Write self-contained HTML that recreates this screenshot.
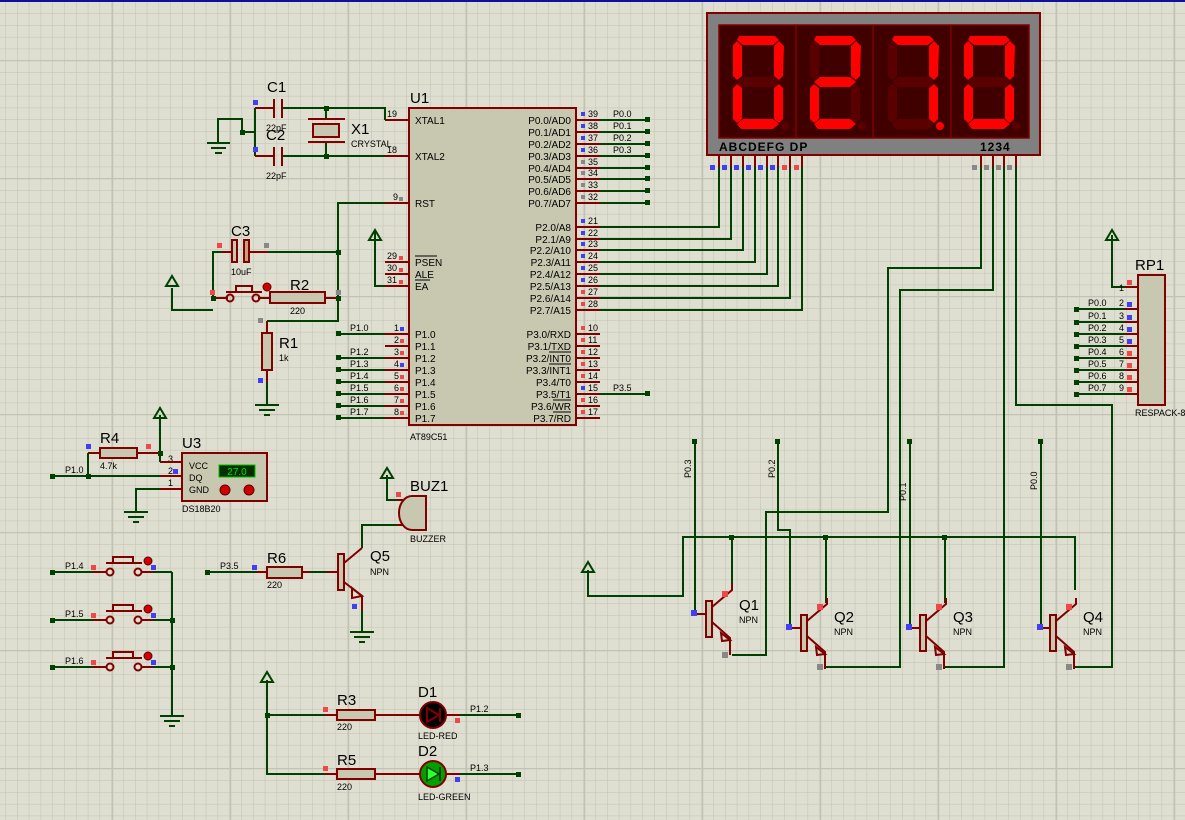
<!DOCTYPE html>
<html><head><meta charset="utf-8"><style>
html,body{margin:0;padding:0;background:#dfdfd1;}
svg{display:block;font-family:"Liberation Sans",sans-serif;}
.w{stroke:#004000;stroke-width:2;fill:none}
.r{stroke:#800000;stroke-width:2;fill:none}
.b{stroke:#800000;stroke-width:2;fill:#c8c8b0}
.t{font-size:10px;fill:#000}
.s{font-size:9px;fill:#000}
.L{font-size:15px;fill:#000}
.j{fill:#004000}
.pr{fill:#f04848}.pb{fill:#4040f0}.pg{fill:#888}
.on{fill:#ff0000}.off{fill:#5a0000}
</style></head><body>
<svg width="1185" height="820" viewBox="0 0 1185 820">
<defs>
<pattern id="g" x="5.2" y="1.5" width="11.8" height="11.8" patternUnits="userSpaceOnUse">
<path d="M0 0V11.8M0 0H11.8" stroke="#c2c2b4" stroke-width="1"/>
</pattern>
<pattern id="G" x="112" y="60" width="118" height="118" patternUnits="userSpaceOnUse">
<path d="M0 0V118M0 0H118" stroke="#c2c2b4" stroke-width="2.5"/>
</pattern>
</defs>
<rect width="1185" height="820" fill="#dfdfd1"/>
<rect width="1185" height="820" fill="url(#g)"/>
<rect width="1185" height="820" fill="url(#G)"/>
<line x1="0" y1="1" x2="1185" y2="1" stroke="#1010a0" stroke-width="2"/>

<!-- ===== U1 ===== -->
<rect x="409" y="108" width="167" height="317" class="b"/>
<text x="410" y="103" class="L">U1</text>
<text x="410" y="440" class="s">AT89C51</text>
<g class="r">
<path d="M385 120H409M385 156H409M385 203H409M385 262H409M385 274H409M385 286H409"/>
<path d="M385 334H409M385 346H409M385 358H409M385 370H409M385 382H409M385 394H409M385 406H409M385 418H409"/>
<path d="M576 120H600M576 132H600M576 144H600M576 156H600M576 168H600M576 179H600M576 191H600M576 203H600"/>
<path d="M576 227H600M576 239H600M576 250H600M576 262H600M576 274H600M576 286H600M576 298H600M576 310H600"/>
<path d="M576 334H600M576 346H600M576 358H600M576 370H600M576 382H600M576 394H600M576 406H600M576 418H600"/>
</g>
<g class="t">
<text x="415" y="124">XTAL1</text><text x="415" y="160">XTAL2</text><text x="415" y="207">RST</text>
<text x="415" y="266">PSEN</text><text x="415" y="278">ALE</text><text x="415" y="290">EA</text>
<text x="415" y="338">P1.0</text><text x="415" y="350">P1.1</text><text x="415" y="362">P1.2</text><text x="415" y="374">P1.3</text>
<text x="415" y="386">P1.4</text><text x="415" y="398">P1.5</text><text x="415" y="410">P1.6</text><text x="415" y="422">P1.7</text>
</g>
<path d="M415 256H437M415 280H430" stroke="#000" stroke-width="1"/>
<g class="t" text-anchor="end">
<text x="571" y="124">P0.0/AD0</text><text x="571" y="136">P0.1/AD1</text><text x="571" y="148">P0.2/AD2</text><text x="571" y="160">P0.3/AD3</text>
<text x="571" y="172">P0.4/AD4</text><text x="571" y="183">P0.5/AD5</text><text x="571" y="195">P0.6/AD6</text><text x="571" y="207">P0.7/AD7</text>
<text x="571" y="231">P2.0/A8</text><text x="571" y="243">P2.1/A9</text><text x="571" y="254">P2.2/A10</text><text x="571" y="266">P2.3/A11</text>
<text x="571" y="278">P2.4/A12</text><text x="571" y="290">P2.5/A13</text><text x="571" y="302">P2.6/A14</text><text x="571" y="314">P2.7/A15</text>
<text x="571" y="338">P3.0/RXD</text><text x="571" y="350">P3.1/TXD</text><text x="571" y="362">P3.2/INT0</text><text x="571" y="374">P3.3/INT1</text>
<text x="571" y="386">P3.4/T0</text><text x="571" y="398">P3.5/T1</text><text x="571" y="410">P3.6/WR</text><text x="571" y="422">P3.7/RD</text>
</g>
<path d="M549 352H571M549 364H571M553 400H571M553 412H571M553 412H571" stroke="#000" stroke-width="1"/>
<g class="s">
<text x="387" y="117">19</text><text x="387" y="153">18</text><text x="393" y="200">9</text>
<text x="387" y="259">29</text><text x="387" y="271">30</text><text x="387" y="283">31</text>
<text x="394" y="331">1</text><text x="394" y="343">2</text><text x="394" y="355">3</text><text x="394" y="367">4</text>
<text x="394" y="379">5</text><text x="394" y="391">6</text><text x="394" y="403">7</text><text x="394" y="415">8</text>
<text x="588" y="117">39</text><text x="588" y="129">38</text><text x="588" y="141">37</text><text x="588" y="153">36</text>
<text x="588" y="165">35</text><text x="588" y="176">34</text><text x="588" y="188">33</text><text x="588" y="200">32</text>
<text x="588" y="224">21</text><text x="588" y="236">22</text><text x="588" y="247">23</text><text x="588" y="259">24</text>
<text x="588" y="271">25</text><text x="588" y="283">26</text><text x="588" y="295">27</text><text x="588" y="307">28</text>
<text x="588" y="331">10</text><text x="588" y="343">11</text><text x="588" y="355">12</text><text x="588" y="367">13</text>
<text x="588" y="379">14</text><text x="588" y="391">15</text><text x="588" y="403">16</text><text x="588" y="415">17</text>
</g>
<g>
<rect x="581" y="112" width="4" height="4" class="pb"/><rect x="581" y="124" width="4" height="4" class="pb"/><rect x="581" y="136" width="4" height="4" class="pb"/><rect x="581" y="148" width="4" height="4" class="pb"/>
<rect x="581" y="160" width="4" height="4" class="pg"/><rect x="581" y="171" width="4" height="4" class="pg"/><rect x="581" y="183" width="4" height="4" class="pg"/><rect x="581" y="195" width="4" height="4" class="pg"/>
<rect x="581" y="219" width="4" height="4" class="pb"/><rect x="581" y="231" width="4" height="4" class="pb"/><rect x="581" y="242" width="4" height="4" class="pb"/><rect x="581" y="254" width="4" height="4" class="pb"/>
<rect x="581" y="266" width="4" height="4" class="pb"/><rect x="581" y="278" width="4" height="4" class="pb"/><rect x="581" y="290" width="4" height="4" class="pr"/><rect x="581" y="302" width="4" height="4" class="pr"/>
<rect x="581" y="326" width="4" height="4" class="pr"/><rect x="581" y="338" width="4" height="4" class="pr"/><rect x="581" y="350" width="4" height="4" class="pr"/><rect x="581" y="362" width="4" height="4" class="pr"/>
<rect x="581" y="374" width="4" height="4" class="pr"/><rect x="581" y="386" width="4" height="4" class="pb"/><rect x="581" y="398" width="4" height="4" class="pr"/><rect x="581" y="410" width="4" height="4" class="pr"/>
<rect x="399" y="197" width="4" height="4" class="pg"/>
<rect x="399" y="256" width="4" height="4" class="pr"/><rect x="399" y="268" width="4" height="4" class="pr"/><rect x="399" y="280" width="4" height="4" class="pr"/>
<rect x="400" y="327" width="4" height="4" class="pb"/><rect x="400" y="339" width="4" height="4" class="pr"/><rect x="400" y="351" width="4" height="4" class="pr"/><rect x="400" y="363" width="4" height="4" class="pb"/>
<rect x="400" y="375" width="4" height="4" class="pr"/><rect x="400" y="387" width="4" height="4" class="pr"/><rect x="400" y="399" width="4" height="4" class="pr"/><rect x="400" y="411" width="4" height="4" class="pr"/>
</g>
<!-- P0 wires -->
<path class="w" d="M600 120H648M600 132H648M600 144H648M600 156H648M600 168H648M600 179H648M600 191H648M600 203H648"/>
<g class="j"><rect x="645" y="117" width="5" height="5"/><rect x="645" y="129" width="5" height="5"/><rect x="645" y="141" width="5" height="5"/><rect x="645" y="153" width="5" height="5"/><rect x="645" y="165" width="5" height="5"/><rect x="645" y="176" width="5" height="5"/><rect x="645" y="188" width="5" height="5"/><rect x="645" y="200" width="5" height="5"/></g>
<g class="s"><text x="613" y="117">P0.0</text><text x="613" y="129">P0.1</text><text x="613" y="141">P0.2</text><text x="613" y="153">P0.3</text></g>
<!-- P2 wires to display -->
<path class="w" d="M600 227H719V165M600 239H731V165M600 250H743V165M600 262H755V165M600 274H767V165M600 286H778V165M600 298H790V165M600 310H802V165"/>
<!-- P3.5 -->
<path class="w" d="M600 394H648"/><rect x="645" y="391" width="5" height="5" class="j"/><text x="613" y="391" class="s">P3.5</text>
<!-- P1 wires -->
<path class="w" d="M338 334H385M338 358H385M338 370H385M338 382H385M338 394H385M338 406H385M338 418H385"/>
<g class="j"><rect x="336" y="331" width="5" height="5"/><rect x="336" y="355" width="5" height="5"/><rect x="336" y="367" width="5" height="5"/><rect x="336" y="379" width="5" height="5"/><rect x="336" y="391" width="5" height="5"/><rect x="336" y="403" width="5" height="5"/><rect x="336" y="415" width="5" height="5"/></g>
<g class="s"><text x="350" y="331">P1.0</text><text x="350" y="355">P1.2</text><text x="350" y="367">P1.3</text><text x="350" y="379">P1.4</text><text x="350" y="391">P1.5</text><text x="350" y="403">P1.6</text><text x="350" y="415">P1.7</text></g>

<!-- ===== crystal / caps ===== -->
<path class="w" d="M218 143V119H242V132H255M255 108V156M282 108H385V120M282 156H385M326 108V119M326 142V156"/>
<path class="r" d="M255 108H274M255 156H274M274 99V118M282 99V118M274 147V166M282 147V166M308 119H345M308 142H345"/>
<rect x="313" y="124" width="26" height="13" class="b"/>
<path class="w" d="M207 143H230M211 148H226M215 153H222"/>
<g class="j"><rect x="240" y="130" width="5" height="5"/><rect x="324" y="106" width="5" height="5"/><rect x="324" y="154" width="5" height="5"/></g>
<rect x="253" y="100" width="5" height="5" class="pb"/><rect x="253" y="147" width="5" height="5" class="pb"/>
<text x="267" y="92" class="L">C1</text><text x="266" y="131" class="s">22pF</text>
<text x="266" y="140" class="L">C2</text><text x="266" y="179" class="s">22pF</text>
<text x="351" y="134" class="L">X1</text><text x="351" y="147" class="s">CRYSTAL</text>

<!-- reset -->
<path class="w" d="M385 203H338V298V321H267M338 252H268M232 252H213V298M172 288V310H213M213 298H228M258 298H270M325 298H338"/>
<path class="r" d="M267 321V333M267 370V382M222 252H232M232 240V263M248 252H268M213 298H228M258 298H270M325 298H338"/>
<rect x="232" y="240" width="5" height="22" fill="#c8c8b0" stroke="#800000" stroke-width="2"/>
<rect x="244" y="240" width="5" height="22" fill="#c8a080" stroke="#800000" stroke-width="2"/>
<circle cx="230" cy="298" r="3.5" fill="none" stroke="#800000" stroke-width="2"/><circle cx="256" cy="298" r="3.5" fill="none" stroke="#800000" stroke-width="2"/>
<path class="r" d="M226 292H262M236 292V286H252V292"/>
<circle cx="267" cy="287" r="4" fill="#d00000" stroke="#600000"/>
<rect x="270" y="292" width="55" height="11" class="b"/>
<rect x="262" y="333" width="10" height="37" class="b"/>
<path class="w" d="M267 382V405M255 405H279M259 410H275M264 415H270"/>
<path class="w" d="M375 232V286H385"/><path d="M369 240L375 230L381 240Z" fill="none" stroke="#004000" stroke-width="2"/>
<path d="M166 286L172 276L178 286Z" fill="none" stroke="#004000" stroke-width="2"/>
<g class="j"><rect x="336" y="250" width="5" height="5"/><rect x="336" y="296" width="5" height="5"/><rect x="211" y="296" width="5" height="5"/></g>
<rect x="217" y="243" width="5" height="5" class="pr"/><rect x="264" y="243" width="5" height="5" class="pg"/><rect x="210" y="290" width="5" height="5" class="pr"/><rect x="336" y="290" width="5" height="5" class="pg"/>
<rect x="258" y="318" width="5" height="5" class="pg"/><rect x="258" y="378" width="5" height="5" class="pb"/>
<text x="231" y="236" class="L">C3</text><text x="231" y="275" class="s">10uF</text>
<text x="290" y="290" class="L">R2</text><text x="290" y="314" class="s">220</text>
<text x="279" y="348" class="L">R1</text><text x="279" y="361" class="s">1k</text>

<!-- ===== display ===== -->
<rect x="707" y="13" width="333" height="142" fill="#808080" stroke="#800000" stroke-width="2"/>
<rect x="719" y="25" width="310" height="113" fill="#400000" stroke="#800000" stroke-width="1.5"/>
<path d="M796 25V138M873 25V138M951 25V138" stroke="#800000" stroke-width="1.5"/>
<g id="d1" transform="translate(733,36)">
<polygon class="on" points="6,0 42,0 46,4 40,9 10,9 4,4"/><polygon class="on" points="46,5 51,10 50,40 46,44 41,40 41,10"/>
<polygon class="on" points="46,48 50,52 50,83 46,87 41,83 41,52"/><polygon class="on" points="4,88 10,83 40,83 46,88 40,93 8,93"/>
<polygon class="on" points="4,48 9,52 9,83 4,87 0,83 0,52"/><polygon class="on" points="4,5 9,10 9,40 4,44 0,40 0,9"/>
<polygon class="off" points="4,46 10,41 40,41 46,46 40,51 10,51"/><circle class="off" cx="52" cy="90" r="4"/></g>
<g transform="translate(810,36)">
<polygon class="on" points="6,0 42,0 46,4 40,9 10,9 4,4"/><polygon class="on" points="46,5 51,10 50,40 46,44 41,40 41,10"/>
<polygon class="off" points="46,48 50,52 50,83 46,87 41,83 41,52"/><polygon class="on" points="4,88 10,83 40,83 46,88 40,93 8,93"/>
<polygon class="on" points="4,48 9,52 9,83 4,87 0,83 0,52"/><polygon class="off" points="4,5 9,10 9,40 4,44 0,40 0,9"/>
<polygon class="on" points="4,46 10,41 40,41 46,46 40,51 10,51"/><circle class="off" cx="52" cy="90" r="4"/></g>
<g transform="translate(888,36)">
<polygon class="on" points="6,0 42,0 46,4 40,9 10,9 4,4"/><polygon class="on" points="46,5 51,10 50,40 46,44 41,40 41,10"/>
<polygon class="on" points="46,48 50,52 50,83 46,87 41,83 41,52"/><polygon class="off" points="4,88 10,83 40,83 46,88 40,93 8,93"/>
<polygon class="off" points="4,48 9,52 9,83 4,87 0,83 0,52"/><polygon class="off" points="4,5 9,10 9,40 4,44 0,40 0,9"/>
<polygon class="off" points="4,46 10,41 40,41 46,46 40,51 10,51"/><circle class="on" cx="52" cy="90" r="4"/></g>
<g transform="translate(964,36)">
<polygon class="on" points="6,0 42,0 46,4 40,9 10,9 4,4"/><polygon class="on" points="46,5 51,10 50,40 46,44 41,40 41,10"/>
<polygon class="on" points="46,48 50,52 50,83 46,87 41,83 41,52"/><polygon class="on" points="4,88 10,83 40,83 46,88 40,93 8,93"/>
<polygon class="on" points="4,48 9,52 9,83 4,87 0,83 0,52"/><polygon class="on" points="4,5 9,10 9,40 4,44 0,40 0,9"/>
<polygon class="off" points="4,46 10,41 40,41 46,46 40,51 10,51"/><circle class="off" cx="52" cy="90" r="4"/></g>
<text x="719" y="151" font-size="12" font-weight="bold" letter-spacing="1" fill="#000">ABCDEFG DP</text>
<text x="980" y="151" font-size="12" font-weight="bold" letter-spacing="1" fill="#000">1234</text>
<path class="r" d="M719 155V167M731 155V167M743 155V167M755 155V167M767 155V167M778 155V167M790 155V167M802 155V167M981 155V167M993 155V167M1004 155V167M1016 155V167"/>
<g><rect x="710" y="165" width="5" height="5" class="pb"/><rect x="722" y="165" width="5" height="5" class="pb"/><rect x="734" y="165" width="5" height="5" class="pb"/><rect x="746" y="165" width="5" height="5" class="pb"/><rect x="758" y="165" width="5" height="5" class="pb"/><rect x="770" y="165" width="5" height="5" class="pb"/><rect x="782" y="165" width="5" height="5" class="pr"/><rect x="794" y="165" width="5" height="5" class="pr"/>
<rect x="972" y="165" width="5" height="5" class="pg"/><rect x="984" y="165" width="5" height="5" class="pg"/><rect x="996" y="165" width="5" height="5" class="pg"/><rect x="1007" y="165" width="5" height="5" class="pg"/></g>
<!-- digit wires -->
<path class="w" d="M981 167V268H888V512H766V655H732M993 167V290H900V667H826M1004 167V667H945M1016 167V405H1112V667H1075"/>

<!-- ===== RP1 ===== -->
<rect x="1138" y="275" width="27" height="130" class="b"/>
<text x="1135" y="270" class="L">RP1</text><text x="1135" y="416" class="s">RESPACK-8</text>
<path class="w" d="M1112 235V287H1125M1076 309H1125M1076 322H1125M1076 334H1125M1076 346H1125M1076 358H1125M1076 370H1125M1076 382H1125M1076 394H1125"/>
<path class="r" d="M1125 287H1138M1125 309H1138M1125 322H1138M1125 334H1138M1125 346H1138M1125 358H1138M1125 370H1138M1125 382H1138M1125 394H1138"/>
<path d="M1106 240L1112 230L1118 240Z" fill="none" stroke="#004000" stroke-width="2"/>
<g class="j"><rect x="1074" y="307" width="5" height="5"/><rect x="1074" y="320" width="5" height="5"/><rect x="1074" y="332" width="5" height="5"/><rect x="1074" y="344" width="5" height="5"/><rect x="1074" y="356" width="5" height="5"/><rect x="1074" y="368" width="5" height="5"/><rect x="1074" y="380" width="5" height="5"/><rect x="1074" y="392" width="5" height="5"/></g>
<g class="s"><text x="1088" y="306">P0.0</text><text x="1088" y="319">P0.1</text><text x="1088" y="331">P0.2</text><text x="1088" y="343">P0.3</text><text x="1088" y="355">P0.4</text><text x="1088" y="367">P0.5</text><text x="1088" y="379">P0.6</text><text x="1088" y="391">P0.7</text>
<text x="1119" y="291">1</text><text x="1119" y="306">2</text><text x="1119" y="319">3</text><text x="1119" y="331">4</text><text x="1119" y="343">5</text><text x="1119" y="355">6</text><text x="1119" y="367">7</text><text x="1119" y="379">8</text><text x="1119" y="391">9</text></g>
<g><rect x="1127" y="280" width="5" height="5" class="pr"/><rect x="1127" y="302" width="5" height="5" class="pb"/><rect x="1127" y="315" width="5" height="5" class="pb"/><rect x="1127" y="327" width="5" height="5" class="pb"/><rect x="1127" y="339" width="5" height="5" class="pb"/><rect x="1127" y="351" width="5" height="5" class="pr"/><rect x="1127" y="363" width="5" height="5" class="pr"/><rect x="1127" y="375" width="5" height="5" class="pr"/><rect x="1127" y="387" width="5" height="5" class="pr"/></g>

<!-- ===== transistors Q1-Q4 ===== -->
<path class="w" d="M588 570V596H683V537H1075V590M732 537V590M826 537V603M945 537V603"/>
<path d="M582 572L588 562L594 572Z" fill="none" stroke="#004000" stroke-width="2"/>
<path class="w" d="M695 442V614M778 442V530H790V628M910 442V628M1041 442V628"/>
<g class="j"><rect x="692" y="439" width="5" height="5"/><rect x="775" y="439" width="5" height="5"/><rect x="907" y="439" width="5" height="5"/><rect x="1038" y="439" width="5" height="5"/>
<rect x="729" y="535" width="5" height="5"/><rect x="823" y="535" width="5" height="5"/><rect x="942" y="535" width="5" height="5"/></g>
<g class="s"><text transform="translate(691,478) rotate(-90)">P0.3</text><text transform="translate(775,478) rotate(-90)">P0.2</text><text transform="translate(906,501) rotate(-90)">P0.1</text><text transform="translate(1037,490) rotate(-90)">P0.0</text></g>
<g id="q">
<path class="r" d="M695 614H708M712 607L732 590V584M712 622L730 638V655"/>
<path d="M721 633L730 640L722 641Z" fill="none" stroke="#800000" stroke-width="2"/>
<rect x="706" y="601" width="6" height="36" class="b"/>
</g>
<use href="#q" transform="translate(95,14)"/>
<use href="#q" transform="translate(214,14)"/>
<use href="#q" transform="translate(344,14)"/>
<g><rect x="691" y="610" width="6" height="6" class="pb"/><rect x="722" y="591" width="6" height="6" class="pr"/><rect x="722" y="652" width="6" height="6" class="pg"/>
<rect x="786" y="624" width="6" height="6" class="pb"/><rect x="817" y="604" width="6" height="6" class="pr"/><rect x="817" y="664" width="6" height="6" class="pg"/>
<rect x="906" y="624" width="6" height="6" class="pb"/><rect x="936" y="604" width="6" height="6" class="pr"/><rect x="936" y="664" width="6" height="6" class="pg"/>
<rect x="1037" y="624" width="6" height="6" class="pb"/><rect x="1066" y="604" width="6" height="6" class="pr"/><rect x="1066" y="664" width="6" height="6" class="pg"/></g>
<g><text x="739" y="610" class="L">Q1</text><text x="739" y="623" class="s">NPN</text>
<text x="834" y="622" class="L">Q2</text><text x="834" y="635" class="s">NPN</text>
<text x="953" y="622" class="L">Q3</text><text x="953" y="635" class="s">NPN</text>
<text x="1083" y="622" class="L">Q4</text><text x="1083" y="635" class="s">NPN</text></g>

<!-- ===== DS18B20 ===== -->
<rect x="182" y="453" width="85" height="48" class="b"/>
<rect x="219" y="465" width="36" height="12" fill="#003000" stroke="#00c000"/>
<text x="237" y="475" font-size="10" fill="#00e000" text-anchor="middle">27.0</text>
<circle cx="225" cy="490" r="5" fill="#d00000" stroke="#600000"/><circle cx="249" cy="490" r="5" fill="#d00000" stroke="#600000"/>
<g class="s"><text x="189" y="469">VCC</text><text x="189" y="481">DQ</text><text x="189" y="493">GND</text>
<text x="168" y="462">3</text><text x="168" y="474">2</text><text x="168" y="486">1</text><text x="182" y="512">DS18B20</text></g>
<text x="182" y="448" class="L">U3</text>
<path class="r" d="M160 462H182M160 476H182M160 489H182M88 453H100M137 453H160"/>
<rect x="100" y="448" width="37" height="10" class="b"/>
<path class="w" d="M160 415V462M88 453V476M52 476H160M160 489H136V512M124 512H148M128 517H144M133 522H139"/>
<path d="M154 418L160 408L166 418Z" fill="none" stroke="#004000" stroke-width="2"/>
<g class="j"><rect x="50" y="474" width="5" height="5"/><rect x="86" y="474" width="5" height="5"/><rect x="158" y="451" width="5" height="5"/></g>
<rect x="86" y="444" width="5" height="5" class="pb"/><rect x="146" y="444" width="5" height="5" class="pr"/><rect x="173" y="469" width="5" height="5" class="pb"/>
<text x="100" y="443" class="L">R4</text><text x="100" y="469" class="s">4.7k</text><text x="65" y="473" class="s">P1.0</text>

<!-- buttons -->
<g id="btn">
<path class="w" d="M52 572H93M146 572H172"/>
<path class="r" d="M93 572H107M142 572H153M106 563H142M113 563V557H133V563"/>
<circle cx="110" cy="572" r="3.5" fill="none" stroke="#800000" stroke-width="2"/><circle cx="138" cy="572" r="3.5" fill="none" stroke="#800000" stroke-width="2"/>
<circle cx="148" cy="561" r="4" fill="#d00000" stroke="#600000"/>
<rect x="50" y="570" width="5" height="5" class="j"/>
<rect x="91" y="565" width="5" height="5" class="pr"/><rect x="151" y="565" width="5" height="5" class="pb"/>
</g>
<use href="#btn" transform="translate(0,48)"/>
<use href="#btn" transform="translate(0,95)"/>
<g class="s"><text x="65" y="569">P1.4</text><text x="65" y="617">P1.5</text><text x="65" y="664">P1.6</text></g>
<path class="w" d="M172 572V716M160 716H184M164 721H180M169 726H175"/>
<g class="j"><rect x="170" y="618" width="5" height="5"/><rect x="170" y="665" width="5" height="5"/></g>

<!-- Q5 / buzzer -->
<path class="w" d="M207 572H256M310 572H327M362 548V525H397M387 475V500H397M362 610V632M350 632H374M354 637H370M359 642H365"/>
<path d="M381 478L387 468L393 478Z" fill="none" stroke="#004000" stroke-width="2"/>
<path class="r" d="M256 572H267M302 572H310M327 572H340M344 563L362 548M344 582L362 596V610M397 525H410M397 500H410"/>
<path d="M352 588L362 596L352 598Z" fill="none" stroke="#800000" stroke-width="2"/>
<rect x="267" y="567" width="35" height="11" class="b"/>
<rect x="338" y="554" width="6" height="36" class="b"/>
<path d="M412 496A13 17 0 0 0 412 530H426V496Z" fill="#c8c8b0" stroke="#800000" stroke-width="2"/>
<rect x="205" y="570" width="5" height="5" class="j"/>
<rect x="252" y="565" width="5" height="5" class="pb"/><rect x="352" y="604" width="5" height="5" class="pb"/><rect x="396" y="492" width="5" height="5" class="pr"/>
<text x="220" y="569" class="s">P3.5</text><text x="267" y="563" class="L">R6</text><text x="267" y="588" class="s">220</text>
<text x="370" y="561" class="L">Q5</text><text x="370" y="575" class="s">NPN</text>
<text x="410" y="491" class="L">BUZ1</text><text x="410" y="542" class="s">BUZZER</text>

<!-- LEDs -->
<path class="w" d="M267 680V774H325M267 715H325M460 715H518M460 774H518"/>
<path d="M261 682L267 672L273 682Z" fill="none" stroke="#004000" stroke-width="2"/>
<path class="r" d="M325 715H337M375 715H420M325 774H337M375 774H420M446 715H460M446 774H460"/>
<rect x="337" y="710" width="38" height="10" class="b"/><rect x="337" y="769" width="38" height="10" class="b"/>
<circle cx="433" cy="715" r="13" fill="#000" stroke="#800000" stroke-width="2"/>
<path d="M427 708V722L439 715Z M440 708V722" fill="none" stroke="#800000" stroke-width="2"/>
<circle cx="433" cy="774" r="13" fill="#00a000" stroke="#800000" stroke-width="2"/>
<path d="M427 767V781L439 774Z" fill="#30ff30" stroke="#004000" stroke-width="1.5"/><path d="M440 767V781" stroke="#004000" stroke-width="2"/>
<g class="j"><rect x="265" y="713" width="5" height="5"/><rect x="516" y="713" width="5" height="5"/><rect x="516" y="772" width="5" height="5"/></g>
<rect x="323" y="707" width="5" height="5" class="pr"/><rect x="323" y="766" width="5" height="5" class="pr"/><rect x="455" y="718" width="5" height="5" class="pr"/><rect x="455" y="777" width="5" height="5" class="pb"/>
<text x="337" y="705" class="L">R3</text><text x="337" y="730" class="s">220</text>
<text x="337" y="765" class="L">R5</text><text x="337" y="790" class="s">220</text>
<text x="418" y="697" class="L">D1</text><text x="418" y="739" class="s">LED-RED</text>
<text x="418" y="756" class="L">D2</text><text x="418" y="800" class="s">LED-GREEN</text>
<text x="470" y="712" class="s">P1.2</text><text x="470" y="771" class="s">P1.3</text>
</svg>
</body></html>
